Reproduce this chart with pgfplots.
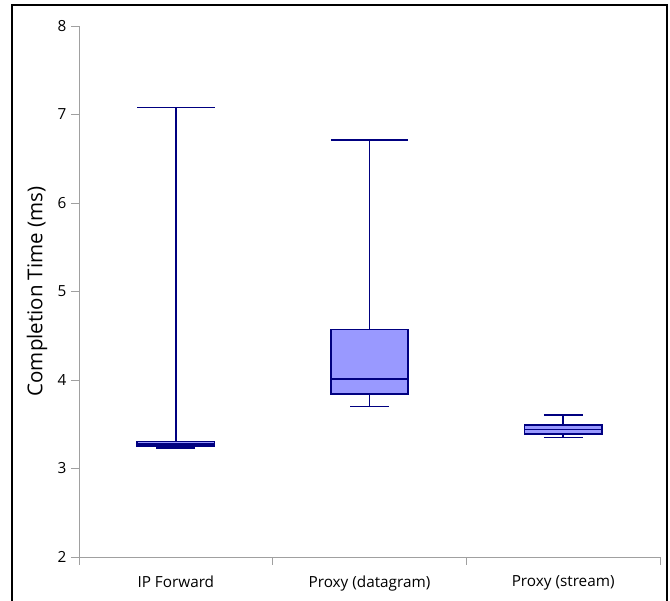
\documentclass[border=0pt]{standalone}
\usepackage{fontspec}
\setmainfont{Open Sans}
\usepackage{pgfplots}
\pgfplotsset{compat=1.18}
\usepgfplotslibrary{statistics}
\definecolor{boxline}{RGB}{0,0,128}
\definecolor{boxfill}{RGB}{153,153,255}
\definecolor{axgray}{RGB}{160,160,160}
\begin{document}
\begin{tikzpicture}[x=1pt,y=1pt]
\useasboundingbox (-79,-44) rectangle (591,557);
\draw[line width=2.2pt,black] (-67,-60) -- (-67,552) -- (588,552) -- (588,-60);
\begin{axis}[
  at={(0,0)}, anchor=origin,
  scale only axis, width=581pt, height=531pt,
  xmin=0.5, xmax=3.5, ymin=2, ymax=8,
  axis x line=bottom, axis y line=left,
  axis line style={axgray, line width=0.8pt, -},
  every tick/.style={axgray, line width=0.8pt},
  tick align=outside, major tick length=8pt,
  xtick={0.5,1.5,2.5,3.5},
  xticklabels={IP Forward,Proxy (datagram),Proxy (stream)},
  x tick label as interval,
  ytick={2,3,4,5,6,7,8},
  tick label style={font=\fontsize{15.3}{18}\selectfont, black},
  /pgf/number format/assume math mode=true,
  yticklabel style={xshift=-1pt},
  xticklabel style={yshift=-7pt},
  ylabel={Completion Time (ms)},
  every axis y label/.style={at={(axis description cs:0,0.5)}, xshift=-42pt, rotate=90, anchor=center, font=\fontsize{20.5}{24}\selectfont},
  clip=false,
  boxplot/draw direction=y,
  boxplot/box extend=0.4,
  boxplot/whisker extend=0.2,
]
\addplot[boxline, line width=1.8pt, fill=boxfill, boxplot prepared={
  lower whisker=3.23, lower quartile=3.25, median=3.28,
  upper quartile=3.305, upper whisker=7.08, draw position=1}] coordinates {};
\addplot[boxline, line width=1.8pt, fill=boxfill, boxplot prepared={
  lower whisker=3.70, lower quartile=3.84, median=4.01,
  upper quartile=4.57, upper whisker=6.71, draw position=2}] coordinates {};
\addplot[boxline, line width=1.8pt, fill=boxfill, boxplot prepared={
  lower whisker=3.35, lower quartile=3.39, median=3.44,
  upper quartile=3.495, upper whisker=3.60, draw position=3}] coordinates {};
\addplot[boxline, line width=1.8pt] coordinates {(0.8,7.08) (1.2,7.08)};
\addplot[boxline, line width=1.8pt] coordinates {(1.8,6.71) (2.2,6.71)};
\end{axis}
\end{tikzpicture}
\end{document}
